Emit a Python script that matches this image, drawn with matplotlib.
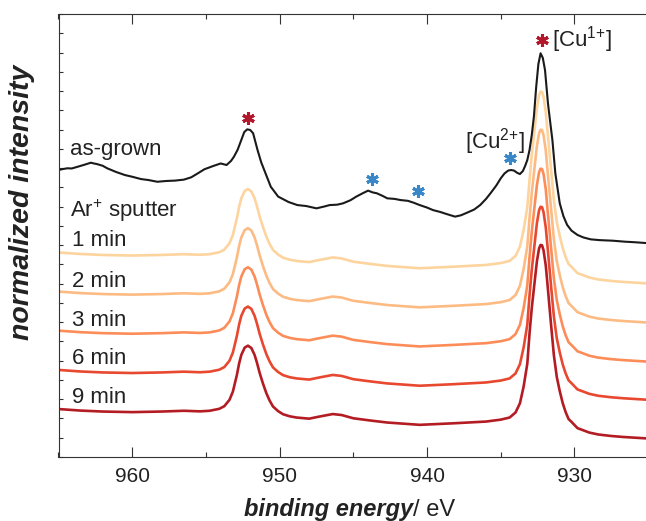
import matplotlib
matplotlib.use('Agg')
from matplotlib import pyplot as plt
from matplotlib.ticker import MultipleLocator

plt.rcParams['font.family'] = ['Liberation Sans', 'DejaVu Sans']
plt.rcParams['mathtext.fontset'] = 'custom'
plt.rcParams['mathtext.rm'] = 'Liberation Sans'
plt.rcParams['mathtext.it'] = 'Liberation Sans:italic'
plt.rcParams['mathtext.bf'] = 'Liberation Sans:bold'

# as-grown spectrum (binding energy in eV, normalized intensity, stacked)
grown_energy = [965.0, 964.7, 964.4, 964.1, 963.7, 963.3, 962.8, 962.6, 962.4, 962.0,
                961.7, 961.1, 960.5, 960.0, 959.4, 958.9, 958.3, 957.7, 957.1, 956.5,
                956.0, 955.5, 955.1, 954.5, 954.0, 953.6, 953.3, 953.1, 952.85, 952.6,
                952.4, 952.2, 952.0, 951.8, 951.5, 951.25, 951.0, 950.6, 950.1, 949.4,
                948.8, 948.2, 947.5, 947.0, 946.6, 946.1, 945.7, 945.2, 944.8, 944.4,
                944.0, 943.7, 943.4, 943.0, 942.7, 942.2, 941.8, 941.3, 940.9, 940.5,
                940.0, 939.6, 939.1, 938.7, 938.1, 937.7, 937.3, 936.8, 936.4, 936.0,
                935.7, 935.3, 935.0, 934.75, 934.5, 934.3, 934.1, 933.9, 933.7, 933.5,
                933.35, 933.2, 933.05, 932.9, 932.75, 932.6, 932.45, 932.3, 932.15, 932.0,
                931.8, 931.65, 931.5, 931.3, 931.0, 930.75, 930.5, 930.2, 929.8, 929.4,
                928.9, 928.3, 927.4, 926.6, 925.9, 925.0]
grown = [14.90, 14.95, 14.99, 14.98, 15.07, 15.16, 15.28, 15.24, 15.21, 15.12,
         14.99, 14.80, 14.64, 14.55, 14.43, 14.38, 14.29, 14.33, 14.35, 14.40,
         14.52, 14.75, 14.94, 15.11, 15.24, 15.16, 15.37, 15.59, 15.95, 16.46,
         16.87, 17.01, 16.98, 16.81, 15.94, 15.30, 14.81, 14.03, 13.52, 13.24,
         13.08, 13.03, 12.91, 13.00, 13.08, 13.10, 13.17, 13.33, 13.52, 13.68,
         13.83, 13.74, 13.69, 13.55, 13.43, 13.40, 13.34, 13.30, 13.20, 13.08,
         12.95, 12.82, 12.72, 12.62, 12.48, 12.55, 12.68, 12.85, 13.08, 13.40,
         13.69, 14.10, 14.47, 14.72, 14.87, 14.90, 14.87, 14.76, 14.69, 14.85,
         15.11, 15.42, 15.94, 16.70, 17.70, 19.20, 20.40, 20.96, 20.72, 20.09,
         18.36, 17.40, 16.46, 14.73, 13.17, 12.50, 12.05, 11.75, 11.53, 11.40,
         11.30, 11.26, 11.23, 11.18, 11.15, 11.10]

# Ar+ sputtered spectra
sputter_energy = [965.0, 963.5, 962.0, 960.0, 958.0, 956.5, 955.4, 954.75, 954.1, 953.75,
                  953.4, 953.17, 952.9, 952.75, 952.6, 952.37, 952.15, 951.92, 951.7, 951.54,
                  951.35, 951.13, 950.9, 950.68, 950.45, 950.1, 949.77, 949.3, 948.86, 948.0,
                  947.3, 946.4, 945.8, 945.0, 943.8, 942.7, 940.5, 938.2, 936.0, 935.0,
                  934.4, 934.0, 933.7, 933.45, 933.2, 933.05, 932.9, 932.7, 932.55, 932.4,
                  932.3, 932.2, 932.1, 931.95, 931.85, 931.6, 931.4, 931.2, 931.0, 930.8,
                  930.6, 930.4, 930.2, 929.8, 929.0, 928.4, 927.5, 926.7, 925.0]
min1 = [10.62, 10.54, 10.49, 10.46, 10.49, 10.53, 10.50, 10.53, 10.63, 10.77,
        11.10, 11.53, 12.39, 12.98, 13.43, 13.81, 13.91, 13.79, 13.43, 13.03,
        12.48, 11.94, 11.44, 11.06, 10.75, 10.51, 10.35, 10.24, 10.18, 10.12,
        10.23, 10.36, 10.31, 10.14, 10.02, 9.92, 9.80, 9.88, 9.97, 10.07,
        10.18, 10.44, 10.92, 11.79, 12.98, 14.38, 15.68, 17.08, 18.12, 18.80,
        18.97, 18.95, 18.69, 17.91, 17.08, 15.01, 13.34, 12.20, 11.47, 10.85,
        10.38, 10.02, 9.87, 9.55, 9.32, 9.22, 9.14, 9.09, 9.01]
min2 = [8.59, 8.51, 8.46, 8.43, 8.46, 8.50, 8.47, 8.50, 8.60, 8.74,
        9.07, 9.50, 10.36, 10.95, 11.40, 11.78, 11.88, 11.76, 11.40, 11.00,
        10.45, 9.91, 9.41, 9.03, 8.72, 8.48, 8.32, 8.21, 8.15, 8.09,
        8.20, 8.33, 8.28, 8.11, 7.99, 7.89, 7.77, 7.85, 7.94, 8.04,
        8.15, 8.41, 8.89, 9.76, 10.95, 12.40, 13.70, 15.10, 16.14, 16.82,
        16.99, 16.97, 16.71, 15.93, 15.05, 12.98, 11.31, 10.17, 9.44, 8.82,
        8.35, 7.99, 7.84, 7.52, 7.29, 7.19, 7.11, 7.06, 6.98]
min3 = [6.56, 6.48, 6.43, 6.40, 6.43, 6.47, 6.44, 6.47, 6.57, 6.71,
        7.04, 7.47, 8.33, 8.92, 9.37, 9.75, 9.85, 9.73, 9.37, 8.97,
        8.42, 7.88, 7.38, 7.00, 6.69, 6.45, 6.29, 6.18, 6.12, 6.06,
        6.17, 6.30, 6.25, 6.08, 5.96, 5.86, 5.74, 5.82, 5.91, 6.01,
        6.12, 6.38, 6.86, 7.73, 8.92, 10.38, 11.68, 13.08, 14.12, 14.80,
        14.97, 14.95, 14.69, 13.91, 13.02, 10.95, 9.28, 8.14, 7.41, 6.79,
        6.32, 5.96, 5.81, 5.49, 5.26, 5.16, 5.08, 5.03, 4.95]
min6 = [4.52, 4.44, 4.39, 4.36, 4.39, 4.43, 4.40, 4.43, 4.53, 4.67,
        5.00, 5.43, 6.29, 6.88, 7.33, 7.71, 7.81, 7.69, 7.33, 6.93,
        6.38, 5.84, 5.34, 4.96, 4.65, 4.41, 4.25, 4.14, 4.08, 4.02,
        4.13, 4.26, 4.21, 4.04, 3.92, 3.82, 3.70, 3.78, 3.87, 3.97,
        4.08, 4.34, 4.82, 5.69, 6.88, 8.40, 9.70, 11.10, 12.14, 12.82,
        12.99, 12.97, 12.71, 11.93, 11.10, 8.97, 7.30, 6.16, 5.43, 4.81,
        4.34, 3.98, 3.83, 3.51, 3.28, 3.18, 3.10, 3.05, 2.97]
min9 = [2.49, 2.41, 2.36, 2.33, 2.36, 2.40, 2.37, 2.40, 2.50, 2.64,
        2.97, 3.40, 4.26, 4.85, 5.30, 5.68, 5.78, 5.66, 5.30, 4.90,
        4.35, 3.81, 3.31, 2.93, 2.62, 2.38, 2.22, 2.11, 2.05, 1.99,
        2.10, 2.23, 2.18, 2.01, 1.89, 1.79, 1.67, 1.75, 1.84, 1.94,
        2.05, 2.31, 2.79, 3.66, 4.85, 6.42, 7.72, 9.12, 10.16, 10.84,
        11.01, 10.99, 10.73, 9.95, 9.12, 6.96, 5.29, 4.15, 3.42, 2.80,
        2.33, 1.97, 1.82, 1.50, 1.27, 1.17, 1.09, 1.04, 0.96]

sputter_curves = [min1, min2, min3, min6, min9]
sputter_labels = ['1 min', '2 min', '3 min', '6 min', '9 min']
sputter_colors = ['#fdd49e', '#fdbb84', '#fc8d59', '#e8482f', '#b41c24']
label_heights = [10.97, 8.82, 6.80, 4.83, 2.82]

# marked features
cu1_star_e, cu1_star_y = [952.16, 932.22], [17.59, 21.65]
cu2_star_e, cu2_star_y = [943.76, 940.64, 934.37], [14.43, 13.83, 15.51]

fig = plt.figure(figsize=(6.46, 5.21), dpi=100)
ax = fig.add_axes([58.5 / 646, 64 / 521, 587.5 / 646, 443 / 521])

for vals, c in zip(sputter_curves, sputter_colors):
    ax.plot(sputter_energy, vals, c=c, lw=1.9, solid_joinstyle='round')
ax.plot(grown_energy, grown, c='#1a1a1a', lw=1.5)

ax.plot(cu1_star_e, cu1_star_y, ls='none', marker=(6, 2, 0), ms=9,
        mew=2.2, mec='#b2182b')
ax.plot(cu2_star_e, cu2_star_y, ls='none', marker=(6, 2, 0), ms=9,
        mew=2.2, mec='#3a87c8')

# text labels
ax.text(964.25, 15.68, 'as-grown', fontsize=16, color='#222222')
ax.text(964.25, 12.46, 'Ar$^{+}$ sputter', fontsize=16, color='#222222')
for lab, h in zip(sputter_labels, label_heights):
    ax.text(964.1, h, lab, fontsize=16, color='#222222')
ax.text(937.4, 16.0, '[Cu$^{2{+}}$]', fontsize=16, color='#222222')
ax.text(931.5, 21.3, '[Cu$^{1{+}}$]', fontsize=16, color='#222222')

ax.set_xlim(965, 925.15)
ax.set_ylim(0, 23)
ax.xaxis.set_major_locator(MultipleLocator(10))
ax.xaxis.set_minor_locator(MultipleLocator(5))
ax.yaxis.set_major_locator(MultipleLocator(1))
ax.set_yticklabels([])
ax.tick_params(axis='x', which='both', direction='in', top=True, width=0.8,
               color='#333333', labelsize=15, pad=7, labelcolor='#222222')
ax.tick_params(axis='x', which='major', length=7)
ax.tick_params(axis='x', which='minor', length=3.6)
ax.tick_params(axis='y', which='major', direction='in', length=3, width=0.8,
               color='#333333', left=True, right=False)
for s in ['left', 'top', 'bottom']:
    ax.spines[s].set_linewidth(0.8)
    ax.spines[s].set_color('#333333')
ax.spines['right'].set_visible(False)

# axis titles
fig.text(0.034, 1 - 202 / 521, 'normalized intensity', rotation=90,
         ha='center', va='center', fontsize=20.5, fontweight='bold',
         fontstyle='italic', color='#222222')
fig.text(413 / 646, 5 / 521, 'binding energy', ha='right', va='baseline',
         fontsize=17, fontweight='bold', fontstyle='italic', color='#222222')
fig.text(413 / 646, 5 / 521, '/ eV', ha='left', va='baseline',
         fontsize=17, color='#222222')

fig.savefig('out.png', dpi=100)
